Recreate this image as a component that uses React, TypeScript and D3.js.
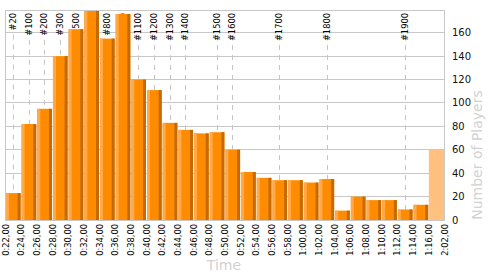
import React from "react";
import * as d3 from "d3";

const tickLabels = [
  "0:22,00", "0:24,00", "0:26,00", "0:28,00", "0:30,00", "0:32,00", "0:34,00",
  "0:36,00", "0:38,00", "0:40,00", "0:42,00", "0:44,00", "0:46,00", "0:48,00",
  "0:50,00", "0:52,00", "0:54,00", "0:56,00", "0:58,00", "1:00,00", "1:02,00",
  "1:04,00", "1:06,00", "1:08,00", "1:10,00", "1:12,00", "1:14,00", "1:16,00",
  "2:02,00",
];

// players finishing in each bin (bin i spans tickLabels[i] .. tickLabels[i+1])
const players = [
  23, 82, 95, 140, 163, 185, 155, 176, 120, 111, 83, 77, 74, 75, 60, 41, 36, 34,
  34, 32, 35, 8, 20, 17, 17, 9, 13, 60,
];

const ranks = [
  20, 100, 200, 300, 400, 500, 600, 700, 800, 900, 1000, 1100, 1200, 1300, 1400,
  1500, 1600, 1700, 1800, 1900,
];

const yTicks = [0, 20, 40, 60, 80, 100, 120, 140, 160];
const yMax = 179;

const W = 500;
const H = 275;
const left = 5.5;
const right = 444.5;
const top = 10.5;
const bottom = 220;

const FONT = "DejaVu Sans";

export default function App() {
  const nBins = players.length;
  const x = d3
    .scaleBand<number>()
    .domain(d3.range(nBins))
    .range([left, right])
    .paddingInner(0)
    .paddingOuter(0);
  const edge = d3.scaleLinear().domain([0, nBins]).range([left, right]);
  const y = d3.scaleLinear().domain([0, yMax]).range([bottom, top]);
  const step = x.bandwidth();

  const cum = d3.cumsum(players);
  // one marker per bin: the highest rank reached inside that bin
  const byBin = new Map<number, number>();
  ranks.forEach((r) => {
    const bin = cum.findIndex((c) => c >= r);
    byBin.set(bin, r);
  });
  const markers = Array.from(byBin.entries()).map(([bin, r]) => ({
    bin,
    label: "#" + r,
  }));

  const crisp = (v: number) => Math.floor(v) + 0.5;
  const fs = 8.3;
  const labelLen = (s: string) =>
    s.split("").reduce((a, c) => a + (c === "#" ? 0.838 : 0.636), 0) * fs;

  return (
    <svg
      width={W}
      height={H}
      style={{ position: "absolute", left: 0, top: 0, background: "#fff" }}
    >
      <defs>
        <clipPath id="plot">
          <rect x={left} y={10} width={right - left} height={bottom - 10} />
        </clipPath>
      </defs>
      {/* grid */}
      {yTicks.map((t) => (
        <line
          key={"g" + t}
          x1={left}
          x2={right}
          y1={crisp(y(t))}
          y2={crisp(y(t))}
          stroke="#c8c8c8"
          strokeWidth={1}
        />
      ))}
      {/* rank markers */}
      {markers.map((m) => {
        const cx = (x(m.bin) as number) + step / 2 - 0.4;
        const xx = Math.round(cx) + 0.5;
        const y1 = 13 + labelLen(m.label) + 4;
        return (
          <g key={m.label}>
            <line
              x1={xx}
              x2={xx}
              y1={y1}
              y2={bottom}
              stroke="#c4c4c4"
              strokeWidth={1}
              strokeDasharray="5,5"
            />
            <text
              transform={`translate(${cx},13) rotate(-90)`}
              textAnchor="end"
              dominantBaseline="central"
              fontFamily={FONT}
              fontSize={fs}
              fill="#000"
            >
              {m.label}
            </text>
          </g>
        );
      })}
      {/* bars */}
      <g clipPath="url(#plot)">
        {players.map((v, i) => {
          const x0 = x(i) as number;
          const yt = y(v);
          const h = bottom - yt;
          if (i === nBins - 1) {
            return (
              <rect
                key={i}
                x={x0}
                y={yt}
                width={step}
                height={h}
                fill="#ffc080"
              />
            );
          }
          const bx = x0 + 0.4;
          const bw = step - 1;
          const sw = 3;
          return (
            <g key={i}>
              <rect x={bx} y={yt} width={bw} height={h} fill="#ff8c00" />
              <rect x={bx} y={yt} width={sw} height={h} fill="#ffa94a" />
              <rect
                x={bx + bw - sw}
                y={yt}
                width={sw}
                height={h}
                fill="#c46a00"
              />
            </g>
          );
        })}
      </g>
      {/* border */}
      <rect
        x={left}
        y={top}
        width={right - left}
        height={bottom + 0.5 - top}
        fill="none"
        stroke="#c8c8c8"
        strokeWidth={1}
      />
      {/* y labels */}
      {yTicks.map((t) => (
        <text
          key={"yl" + t}
          x={452}
          y={y(t)}
          dominantBaseline="central"
          fontFamily={FONT}
          fontSize={10}
          fill="#111"
        >
          {t}
        </text>
      ))}
      {/* x labels */}
      {tickLabels.map((s, i) => (
        <text
          key={"xl" + i}
          transform={`translate(${edge(i)},224) rotate(-90)`}
          textAnchor="end"
          dominantBaseline="central"
          fontFamily={FONT}
          fontSize={fs}
          fill="#000"
        >
          {s}
        </text>
      ))}
      {/* axis titles */}
      <text
        x={224}
        y={270}
        textAnchor="middle"
        fontFamily={FONT}
        fontSize={14}
        fill="#d2d2d2"
      >
        Time
      </text>
      <text
        transform="translate(482,155) rotate(-90)"
        textAnchor="middle"
        fontFamily={FONT}
        fontSize={14}
        fill="#d2d2d2"
      >
        Number of Players
      </text>
    </svg>
  );
}
